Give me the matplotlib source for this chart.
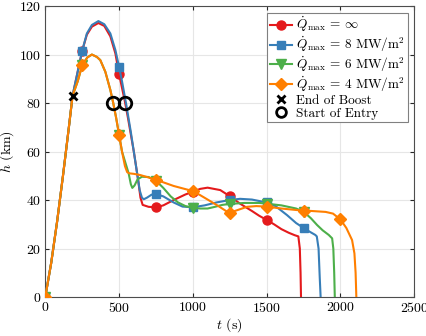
import numpy as np
import matplotlib
matplotlib.use('Agg')
import matplotlib.pyplot as plt
from matplotlib.lines import Line2D

plt.rcParams['font.family'] = 'cmr10'
plt.rcParams['mathtext.fontset'] = 'cm'
plt.rcParams['axes.formatter.use_mathtext'] = True
plt.rcParams['font.size'] = 10

# trajectories: time (s), altitude (km)
t_inf = [0, 40, 80, 120, 160, 185, 220, 250, 282, 316, 360, 400, 441, 475, 500, 540, 560, 600, 630,
         645, 660, 700, 750, 800, 870, 950, 1000, 1050, 1100, 1186, 1250, 1320, 1400, 1450, 1500, 1550,
         1600, 1650, 1690, 1715, 1725, 1730, 1733]
h_inf = [0, 14, 31, 50, 70, 83, 93, 101.5, 108.2, 111.5, 113, 111.8, 107.5, 100.5, 92, 80.5, 74, 60, 48,
         41, 38, 37.2, 37, 37.8, 40, 42.3, 43.4, 44.6, 45.1, 44.1, 41.6, 38.5, 35.5, 33.5, 31.8, 30,
         28, 26.5, 25.5, 25, 20, 10, 0]

t_8 = [0, 40, 80, 120, 160, 185, 220, 250, 282, 316, 360, 400, 441, 475, 500, 520, 547, 580, 610, 640,
       655, 667, 690, 720, 750, 800, 870, 930, 1000, 1080, 1160, 1250, 1320, 1400, 1500, 1560, 1638,
       1700, 1750, 1790, 1830, 1840, 1852, 1860, 1866]
h_8 = [0, 14, 31, 50, 70, 83, 93, 101.5, 108.7, 112.2, 113.8, 112.5, 108.7, 101.9, 95, 89, 80, 68, 56, 44,
       41, 40.3, 41, 42.2, 42.5, 41.5, 39, 37.3, 37, 37.8, 39, 40, 40.5, 40.2, 39, 37.5, 33.8,
       30.5, 28.5, 27, 25.6, 25, 20, 8, 0]

t_6 = [0, 40, 80, 120, 160, 185, 220, 250, 285, 316, 350, 373, 407, 441, 460, 480, 500, 520, 540, 565,
       580, 590, 605, 625, 655, 700, 750, 800, 850, 900, 950, 1000, 1050, 1100, 1150, 1200, 1250, 1350,
       1450, 1500, 1600, 1700, 1750, 1800, 1842, 1880, 1921, 1944, 1952, 1958, 1962]
h_6 = [0, 14, 31, 50, 70, 83, 89, 95.5, 98.8, 100, 99, 97.7, 92.9, 85.4, 80.2, 74, 67, 60, 56, 51,
       46.5, 45, 46, 48.5, 49.6, 49.5, 48, 45, 41.5, 39, 37.5, 36.8, 36.5, 36.5, 37.2, 38, 38.4, 38.8,
       38.8, 38.5, 37.8, 36.5, 35.2, 32.5, 29.7, 27.5, 25.6, 24.2, 20, 10, 0]

t_4 = [0, 40, 80, 120, 160, 185, 220, 250, 285, 316, 350, 373, 407, 441, 460, 480, 500, 520, 540, 555,
       570, 600, 644, 700, 750, 800, 870, 950, 1000, 1050, 1100, 1163, 1232, 1250, 1300, 1367, 1430,
       1500, 1600, 1700, 1750, 1800, 1900, 1950, 2000, 2040, 2079, 2095, 2103, 2108]
h_4 = [0, 14, 31, 50, 70, 83, 89, 95.5, 98.8, 100, 99, 97.7, 92.9, 85.4, 80.2, 74, 67, 60, 54, 51.5,
       51, 50.8, 50.3, 49.3, 48.3, 47.3, 45.8, 44.5, 43.7, 42, 40.2, 37.9, 35.2, 34.8, 35.8, 37.2, 37.5,
       37.3, 36.5, 35.9, 35.6, 35.5, 35.1, 34.4, 32, 28.5, 23.5, 18, 10, 0]

boost_t = [185]
boost_h = [83]
entry_t = [460, 542]
entry_h = [80, 80]

labels = [r'$\dot{Q}_{\rm max}$ = $\infty$',
          r'$\dot{Q}_{\rm max}$ = 8 MW/m$^2$',
          r'$\dot{Q}_{\rm max}$ = 6 MW/m$^2$',
          r'$\dot{Q}_{\rm max}$ = 4 MW/m$^2$']
colors = ['#e41a1c', '#377eb8', '#4daf4a', '#ff7f00']
markers = ['o', 's', 'v', 'D']
msizes = [6.5, 5.5, 7, 6]

fig = plt.figure(figsize=(4.27, 3.36), dpi=100)
ax = fig.add_axes([0.106, 0.116, 0.864, 0.866])

series = [(t_inf, h_inf), (t_8, h_8), (t_6, h_6), (t_4, h_4)]
handles = []
for i, (t, h) in enumerate(series):
    marks = [k for k in range(len(t)) if t[k] % 250 == 0]
    ln, = ax.plot(t, h, color=colors[i], lw=1.5, marker=markers[i], ms=msizes[i],
                  markevery=marks, label=labels[i], zorder=3 + i)
    handles.append(ln)

ax.plot(boost_t, boost_h, 'x', color='k', ms=6, mew=2, zorder=10)
ax.plot(entry_t, entry_h, 'o', mfc='none', mec='k', ms=9, mew=2, zorder=10)
handles.append(Line2D([], [], ls='none', marker='x', color='k', ms=6, mew=2, label='End of Boost'))
handles.append(Line2D([], [], ls='none', marker='o', mfc='none', mec='k', ms=7, mew=2, label='Start of Entry'))

ax.set_xlim(0, 2500)
ax.set_ylim(0, 120)
ax.set_xticks(np.arange(0, 2501, 500))
ax.set_yticks(np.arange(0, 121, 20))
ax.grid(True, color='0.9', lw=0.8)
ax.set_axisbelow(True)
ax.tick_params(direction='in', top=True, right=True, length=3, colors='0.15', labelcolor='k', pad=3)
for s in ax.spines.values():
    s.set_color('0.3')
    s.set_linewidth(0.8)
ax.set_xlabel(r'$t$ (s)', labelpad=1)
ax.set_ylabel(r'$h$ (km)', labelpad=2)

leg = ax.legend(handles=handles, loc='upper right', fancybox=False, edgecolor='0.5', framealpha=1,
                handlelength=1.7, handletextpad=0.3, labelspacing=0.05, borderpad=0.2,
                borderaxespad=0.5, fontsize=9.5)
leg.get_frame().set_linewidth(0.8)

fig.savefig('out.png', dpi=100)
